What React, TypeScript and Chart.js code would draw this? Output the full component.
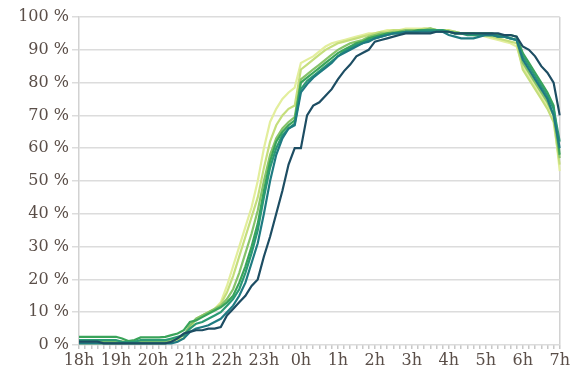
import React, { useEffect, useRef } from "react";
import { Chart, registerables } from "chart.js";

Chart.register(...registerables);

const HOURS = ["18h", "19h", "20h", "21h", "22h", "23h", "0h", "1h", "2h", "3h", "4h", "5h", "6h", "7h"];

// 10-minute steps from 18h to 7h (79 points)
const STEPS: string[] = [];
HOURS.forEach((h, i) => {
  if (i === HOURS.length - 1) {
    STEPS.push(h + "00");
  } else {
    ["00", "10", "20", "30", "40", "50"].forEach((m) => STEPS.push(h + m));
  }
});

const Y_TICKS = [0, 10, 20, 30, 40, 50, 60, 70, 80, 90, 100];

const S1 = [
  1, 1, 1, 1, 0.5, 0.5,
  0.5, 0.5, 0.5, 0.5, 0.5, 0.5,
  0.5, 0.5, 0.5, 1, 2, 3.5,
  4, 4.5, 4.5, 5, 5, 5.5,
  9, 11, 13, 15, 18, 20,
  27, 33, 40, 47, 55, 60,
  60, 70, 73, 74, 76, 78,
  81, 83.5, 85.5, 88, 89, 90,
  92.5, 93, 93.5, 94, 94.5, 95,
  95, 95, 95, 95, 95.5, 95.5,
  95.5, 95, 95, 95, 95, 95,
  95, 95, 95, 94.5, 94.5, 94,
  91, 90, 88, 85, 83, 80, 70,
];

const S2 = [
  0.5, 0.5, 0.5, 0.5, 0.5, 0.5,
  0.5, 0.5, 0.5, 0.5, 0.5, 0.5,
  0.5, 0.5, 0.5, 0.5, 1, 2,
  4, 5, 5.5, 6, 7, 8,
  10, 12, 15, 19, 25, 31,
  40, 50, 58, 63, 66, 67,
  77, 79.5, 81.5, 83, 84.5, 86,
  88, 89, 90, 91, 92, 92.5,
  93.5, 94, 94.5, 95, 95, 95.5,
  95.5, 95.5, 95.5, 95.5, 95.5, 95.5,
  94.5, 94, 93.5, 93.5, 93.5, 94,
  94.5, 94.5, 94, 94, 93.5, 93,
  87, 84, 81, 78, 75, 70, 60,
];

const S3 = [
  1.5, 1.5, 1.5, 1.5, 1.5, 1.5,
  1.5, 1, 0.8, 1, 1.5, 1.5,
  1.5, 1.5, 1.5, 2, 2.5, 3,
  5, 6.5, 7, 8, 9, 10,
  12, 14, 17, 22, 28, 35,
  45, 54, 60, 64, 66, 67.5,
  78, 80.5, 82, 83.5, 85, 86.5,
  88, 89.5, 90.5, 91.5, 92, 93,
  93.5, 94, 94.5, 95, 95, 95.5,
  95.5, 95.5, 96, 96, 96, 96,
  95.5, 95, 95, 94.5, 94.5, 94.5,
  94.5, 94.5, 94, 94, 93.5, 93,
  88, 85, 82, 79, 76, 72, 62,
];

const S4 = [
  2.5, 2.5, 2.5, 2.5, 2.5, 2.5,
  2.5, 2, 1.2, 1.5, 2.3, 2.3,
  2.3, 2.3, 2.5, 3, 3.5, 4.5,
  7, 7.5, 8.5, 9.5, 10.5, 11.5,
  13, 15, 19, 24, 30, 37,
  47, 56, 62, 65, 67, 68.5,
  80, 81.5, 83, 84.5, 86, 87.5,
  89, 90, 91, 92, 92.5, 93.5,
  94, 94.5, 95, 95, 95.5, 95.5,
  95.5, 96, 96, 96, 96, 95.5,
  95.5, 95, 95, 95, 95, 95,
  95, 95, 94.5, 94.5, 94.5, 94,
  89, 86, 83, 80, 77, 73, 58,
];

const S5 = [
  1, 1, 1, 1, 1, 1,
  1, 1, 0.8, 0.8, 1, 1,
  1, 1, 1, 1.5, 2, 3,
  6, 8, 9, 10, 11, 12,
  14, 17, 22, 28, 34, 41,
  50, 58, 63, 66, 68, 69.5,
  81, 82.5, 84, 85.5, 87, 88.5,
  90, 91, 92, 92.5, 93, 94,
  94.5, 95, 95, 95.5, 95.5, 96,
  96, 96, 96, 96.5, 96, 96,
  95.5, 95.5, 95, 95, 95, 94.5,
  94.5, 94.5, 94, 94, 93.5, 93,
  86, 83, 80, 77, 74, 70, 57,
];

const S6 = [
  0.5, 0.5, 0.5, 0.5, 0.5, 0.5,
  0.5, 0.5, 0.5, 0.5, 0.5, 0.5,
  0.5, 0.5, 0.5, 1, 1.5, 2,
  5, 8, 9, 10, 11, 12.5,
  16, 21, 27, 33, 39, 45,
  54, 62, 67, 70, 72, 73,
  84, 85.5, 87, 88.5, 90, 91,
  92, 92.5, 93, 93.5, 94, 94.5,
  95, 95.5, 95.5, 96, 96, 96,
  96, 96, 96.5, 96.5, 96, 96,
  96, 95.5, 95, 95, 94.5, 94.5,
  94.5, 94, 93.5, 93, 92.5, 92,
  84, 81, 78, 75, 72, 68, 55,
];

const S7 = [
  1, 1, 1, 1, 1, 1,
  1, 1, 0.8, 0.8, 1, 1,
  1, 1, 1, 1.5, 2, 3,
  5.5, 8, 9, 10, 11, 13,
  18, 24, 30, 36, 42, 50,
  60, 68, 72, 75, 77, 78.5,
  86, 87, 88, 89.5, 91, 92,
  92.5, 93, 93.5, 94, 94.5, 95,
  95, 95.5, 96, 96, 96, 96.5,
  96.5, 96.5, 96.5, 96.5, 96, 96,
  95.5, 95.5, 95, 95, 94.5, 94.5,
  94, 93.5, 93, 92.5, 92, 91,
  85, 82, 79, 76, 73, 70, 53,
];

const SERIES = [S1, S2, S3, S4, S5, S6, S7];
const COLORS = ["#1d4d63", "#1f7b82", "#2b9a74", "#3aa45a", "#86c36a", "#c5de7c", "#e3ee9d"];

const TEXT_COLOR = "#5a4e48";
const FONT = { family: "'DejaVu Serif', serif", size: 16 };

export default function App() {
  const ref = useRef<HTMLCanvasElement | null>(null);

  useEffect(() => {
    if (!ref.current) return;
    const chart = new Chart(ref.current, {
      type: "line",
      data: {
        labels: STEPS,
        datasets: SERIES.map((s, i) => ({
          label: "S" + (i + 1),
          data: s,
          borderColor: COLORS[i],
          backgroundColor: COLORS[i],
          borderWidth: 2.2,
          pointRadius: 0,
          tension: 0,
          fill: false,
        })),
      },
      options: {
        animation: false,
        responsive: true,
        maintainAspectRatio: false,
        layout: { padding: { top: 17, right: 12, left: 0, bottom: 0 } },
        plugins: { legend: { display: false }, tooltip: { enabled: false } },
        scales: {
          x: {
            type: "category",
            offset: false,
            afterFit: (scale: any) => {
              scale.height = 35;
            },
            border: { display: false },
            grid: {
              drawOnChartArea: true,
              drawTicks: true,
              tickLength: 4,
              tickColor: "#c8c8c8",
              lineWidth: 1.5,
              color: (ctx: any) => (ctx.index === STEPS.length - 1 ? "#d2d2d2" : "rgba(0,0,0,0)"),
            },
            ticks: {
              autoSkip: false,
              maxRotation: 0,
              minRotation: 0,
              padding: 2,
              color: TEXT_COLOR,
              font: FONT,
              callback: (_v: any, i: number) => (i % 6 === 0 ? HOURS[i / 6] : ""),
            },
          },
          y: {
            min: 0,
            max: 100,
            afterFit: (scale: any) => {
              scale.width = 79;
            },
            afterBuildTicks: (scale: any) => {
              scale.ticks = Y_TICKS.map((v) => ({ value: v }));
            },
            border: { display: true, color: "#d2d2d2", width: 1.5 },
            grid: {
              color: "#dcdcdc",
              lineWidth: 1.5,
              drawTicks: true,
              tickLength: 7,
              tickColor: "#dcdcdc",
            },
            ticks: {
              padding: 3,
              color: TEXT_COLOR,
              font: FONT,
              callback: (v: any) => v + " %",
            },
          },
        },
      },
    });
    return () => chart.destroy();
  }, []);

  return (
    <div style={{ position: "absolute", left: 0, top: 0, width: 572, height: 380 }}>
      <canvas ref={ref} />
    </div>
  );
}
